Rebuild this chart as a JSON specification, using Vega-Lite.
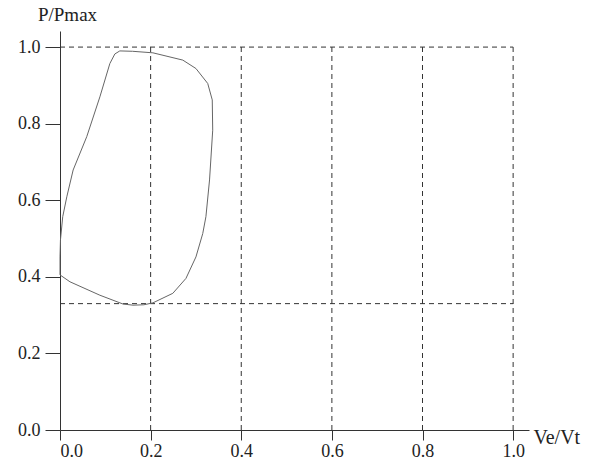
{
  "$schema": "https://vega.github.io/schema/vega-lite/v6.json",
  "width": 469,
  "height": 399,
  "autosize": "none",
  "padding": {"left": 60, "top": 31, "right": 71, "bottom": 32},
  "background": "white",
  "config": {"view": {"stroke": null}, "font": "Liberation Serif"},
  "datasets": {
    "curve": [
      {"i": 1, "ve": 0.132, "p": 0.990},
      {"i": 2, "ve": 0.160, "p": 0.989},
      {"i": 3, "ve": 0.205, "p": 0.985},
      {"i": 4, "ve": 0.271, "p": 0.966},
      {"i": 5, "ve": 0.300, "p": 0.944},
      {"i": 6, "ve": 0.326, "p": 0.905},
      {"i": 7, "ve": 0.336, "p": 0.862},
      {"i": 8, "ve": 0.337, "p": 0.783},
      {"i": 9, "ve": 0.330, "p": 0.653},
      {"i": 10, "ve": 0.322, "p": 0.557},
      {"i": 11, "ve": 0.315, "p": 0.513},
      {"i": 12, "ve": 0.300, "p": 0.452},
      {"i": 13, "ve": 0.278, "p": 0.396},
      {"i": 14, "ve": 0.249, "p": 0.357},
      {"i": 15, "ve": 0.205, "p": 0.332},
      {"i": 16, "ve": 0.185, "p": 0.327},
      {"i": 17, "ve": 0.161, "p": 0.326},
      {"i": 18, "ve": 0.139, "p": 0.329},
      {"i": 19, "ve": 0.088, "p": 0.352},
      {"i": 20, "ve": 0.022, "p": 0.387},
      {"i": 21, "ve": 0.0, "p": 0.405},
      {"i": 22, "ve": 0.0, "p": 0.452},
      {"i": 23, "ve": 0.001, "p": 0.496},
      {"i": 24, "ve": 0.006, "p": 0.557},
      {"i": 25, "ve": 0.015, "p": 0.609},
      {"i": 26, "ve": 0.029, "p": 0.679},
      {"i": 27, "ve": 0.059, "p": 0.766},
      {"i": 28, "ve": 0.088, "p": 0.870},
      {"i": 29, "ve": 0.110, "p": 0.957},
      {"i": 30, "ve": 0.121, "p": 0.982},
      {"i": 31, "ve": 0.132, "p": 0.990}
    ],
    "vrules": [
      {"ve": 0.2, "p": 0, "p2": 1},
      {"ve": 0.4, "p": 0, "p2": 1},
      {"ve": 0.6, "p": 0, "p2": 1},
      {"ve": 0.8, "p": 0, "p2": 1},
      {"ve": 1.0, "p": 0, "p2": 1}
    ],
    "hrules": [
      {"p": 1.0, "ve": 0, "ve2": 1},
      {"p": 0.33, "ve": 0, "ve2": 1}
    ]
  },
  "layer": [
    {
      "data": {"name": "vrules"},
      "mark": {"type": "rule", "stroke": "#333", "strokeWidth": 1, "strokeDash": [5, 4]},
      "encoding": {
        "x": {
          "field": "ve", "type": "quantitative",
          "scale": {"domain": [0, 1.035], "nice": false},
          "axis": {
            "title": "Ve/Vt", "values": [0, 0.2, 0.4, 0.6, 0.8, 1.0], "format": ".1f",
            "grid": false, "domainColor": "#333", "tickColor": "#333", "tickSize": 10,
            "labelPadding": 2, "labelFontSize": 18, "labelColor": "#222", "labelFont": "Liberation Serif",
            "titleFont": "Liberation Serif", "titleFontSize": 20, "titleFontWeight": "normal", "titleColor": "#222",
            "titleX": 473, "titleY": 7, "titleAlign": "left", "titleBaseline": "middle"
          }
        },
        "y": {
          "field": "p", "type": "quantitative",
          "scale": {"domain": [0, 1.042], "nice": false},
          "axis": {
            "title": "P/Pmax", "values": [0, 0.2, 0.4, 0.6, 0.8, 1.0], "format": ".1f",
            "grid": false, "domainColor": "#333", "tickColor": "#333", "tickSize": 15,
            "labelPadding": 5, "labelFontSize": 18, "labelColor": "#222", "labelFont": "Liberation Serif",
            "titleFont": "Liberation Serif", "titleFontSize": 19, "titleFontWeight": "normal", "titleColor": "#222",
            "titleAngle": 0, "titleX": 7, "titleY": -17, "titleAlign": "center", "titleBaseline": "middle"
          }
        },
        "y2": {"field": "p2"}
      }
    },
    {
      "data": {"name": "hrules"},
      "mark": {"type": "rule", "stroke": "#333", "strokeWidth": 1, "strokeDash": [5, 4]},
      "encoding": {
        "x": {"field": "ve", "type": "quantitative", "title": "Ve/Vt"},
        "x2": {"field": "ve2"},
        "y": {"field": "p", "type": "quantitative", "title": "P/Pmax"}
      }
    },
    {
      "data": {"name": "curve"},
      "mark": {"type": "line", "stroke": "#666", "strokeWidth": 1, "interpolate": "linear"},
      "encoding": {
        "order": {"field": "i", "type": "quantitative"},
        "x": {"field": "ve", "type": "quantitative", "title": "Ve/Vt"},
        "y": {"field": "p", "type": "quantitative", "title": "P/Pmax"}
      }
    }
  ]
}
